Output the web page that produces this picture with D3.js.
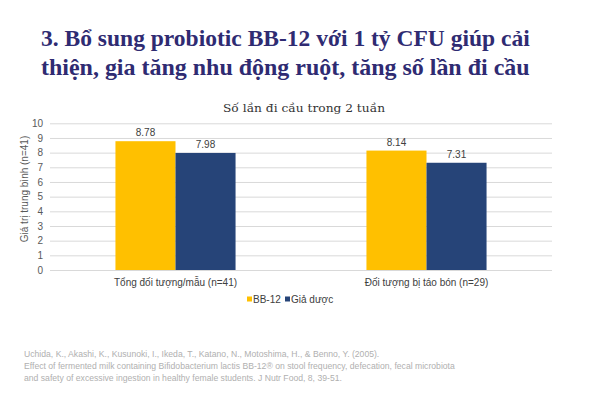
<!DOCTYPE html>
<html><head><meta charset="utf-8">
<script src="https://cdn.jsdelivr.net/npm/d3@7/dist/d3.min.js"></script>
<style>body{margin:0;background:#fff}svg{display:block}</style>
</head><body><svg id="c" width="600" height="409"></svg>
<script>
const titleLines = ["3. Bổ sung probiotic BB-12 với 1 tỷ CFU giúp cải", "thiện, gia tăng nhu động ruột, tăng số lần đi cầu"];
const chartTitle = "Số lần đi cầu trong 2 tuần";
const categories = ["Tổng đối tượng/mẫu (n=41)", "Đối tượng bị táo bón (n=29)"];
const seriesNames = ["BB-12", "Giả dược"];
const bb12 = [8.78, 8.14];
const placebo = [7.98, 7.31];
const yTicks = [0,1,2,3,4,5,6,7,8,9,10];
const yTitle = "Giá trị trung bình (n=41)";
const refLines = ["Uchida, K., Akashi, K., Kusunoki, I., Ikeda, T., Katano, N., Motoshima, H., & Benno, Y. (2005).",
 "Effect of fermented milk containing Bifidobacterium lactis BB-12® on stool frequency, defecation, fecal microbiota",
 "and safety of excessive ingestion in healthy female students. J Nutr Food, 8, 39-51."];
const colors = ["#FFC000", "#264478"];

const svg = d3.select("#c");
const pLeft = 50, pRight = 552, pTop = 123.3, pBottom = 270;
const x0 = d3.scaleBand().domain(categories).range([pLeft, pRight]).paddingInner(0).paddingOuter(0);
const x1 = d3.scaleBand().domain(seriesNames).range([0, x0.bandwidth()]).paddingOuter(1.09);
const y = d3.scaleLinear().domain([0,10]).range([pBottom, pTop]);

// Title: fit each line to the reference width
const tg = svg.append("g");
titleLines.forEach((t,i)=>{
  const el = tg.append("text")
    .attr("font-family", "Liberation Serif, serif").attr("font-weight", "bold")
    .attr("font-size", 24).attr("fill", "#2f2b72").text(t);
  const w = el.node().getComputedTextLength();
  const sx = 489 / w;
  el.attr("transform", `translate(41,${46 + i*29}) scale(${sx},1)`);
});

svg.append("text").attr("x", 304).attr("y", 112).attr("text-anchor","middle")
  .attr("font-family","DejaVu Serif, serif").attr("font-size", 11).attr("fill","#333")
  .attr("textLength", 162).attr("lengthAdjust","spacingAndGlyphs")
  .text(chartTitle);

// grid
const yAxis = d3.axisLeft(y).tickValues(yTicks).tickSize(-(pRight-pLeft)).tickPadding(7);
const ga = svg.append("g").attr("transform", `translate(${pLeft},0)`).call(yAxis);
ga.select(".domain").remove();
ga.selectAll(".tick line").attr("stroke", "#d9d9d9").attr("stroke-width", 1);
ga.selectAll(".tick text").attr("font-family","Liberation Sans, Arial, sans-serif").attr("font-size", 10).attr("fill","#595959");

// bars
const groups = svg.append("g").selectAll("g").data(categories).join("g")
  .attr("transform", d=>`translate(${x0(d)},0)`);
groups.selectAll("rect").data((d,i)=>[{s:seriesNames[0], v:bb12[i], c:0},{s:seriesNames[1], v:placebo[i], c:1}]).join("rect")
  .attr("x", d=>x1(d.s)).attr("width", x1.bandwidth())
  .attr("y", d=>y(d.v)).attr("height", d=>y(0)-y(d.v))
  .attr("fill", d=>colors[d.c]);
groups.selectAll("text.lbl").data((d,i)=>[{s:seriesNames[0], v:bb12[i]},{s:seriesNames[1], v:placebo[i]}]).join("text")
  .attr("class","lbl")
  .attr("x", d=>x1(d.s)+x1.bandwidth()/2).attr("y", d=>y(d.v)-5)
  .attr("text-anchor","middle").attr("font-family","Liberation Sans, Arial, sans-serif")
  .attr("font-size", 10).attr("fill","#404040").text(d=>d.v.toFixed(2));

// x axis labels
const xAxis = d3.axisBottom(x0).tickSize(0).tickPadding(9);
const gx = svg.append("g").attr("transform", `translate(0,${pBottom})`).call(xAxis);
gx.select(".domain").remove();
gx.selectAll(".tick text").attr("font-family","Liberation Sans, Arial, sans-serif").attr("font-size", 10).attr("fill","#404040");

// y title
svg.append("text").attr("transform", "translate(28,189) rotate(-90)").attr("text-anchor","middle")
  .attr("font-family","Liberation Sans, Arial, sans-serif").attr("font-size", 10).attr("fill","#595959")
  .text(yTitle);

// legend
const lg = svg.append("g");
const legendX = [247, 285];
seriesNames.forEach((s,i)=>{
  lg.append("rect").attr("x", legendX[i]).attr("y", 296.5).attr("width", 5).attr("height", 5).attr("fill", colors[i]);
  lg.append("text").attr("x", legendX[i]+6).attr("y", 303).attr("font-family","Liberation Sans, Arial, sans-serif")
    .attr("font-size", 10).attr("fill","#404040").text(s);
});

// reference
svg.append("g").selectAll("text").data(refLines).join("text")
  .attr("x", 24).attr("y", (d,i)=>357 + i*12)
  .attr("font-family","Liberation Sans, Arial, sans-serif").attr("font-size", 8.65).attr("fill","#b0b0b0")
  .text(d=>d);
</script></body></html>
